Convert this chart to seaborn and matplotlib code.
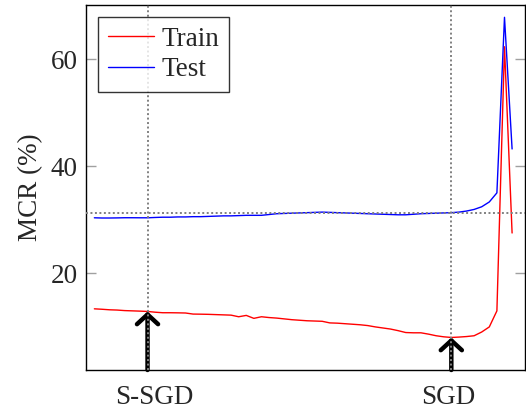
import matplotlib
matplotlib.use('Agg')
import matplotlib.pyplot as plt
import matplotlib.transforms as mtransforms
import numpy as np
import pandas as pd
import seaborn as sns

# MCR (%) per step
train_mcr = [13.33, 13.25, 13.15, 13.1, 13.0, 12.95, 12.9, 12.84, 12.7, 12.6,
             12.6, 12.58, 12.55, 12.35, 12.33, 12.3, 12.25, 12.2, 12.15, 11.85,
             12.1, 11.55, 11.85, 11.7, 11.6, 11.45, 11.3, 11.2, 11.1, 11.05,
             11.0, 10.7, 10.65, 10.55, 10.45, 10.35, 10.2, 9.95, 9.75, 9.55,
             9.25, 8.9, 8.85, 8.85, 8.6, 8.3, 8.1, 7.98, 8.05, 8.15,
             8.3, 9.0, 9.95, 12.95, 62.3, 27.5]
test_mcr = [30.34, 30.3, 30.3, 30.32, 30.35, 30.35, 30.34, 30.34, 30.4, 30.45,
            30.45, 30.5, 30.5, 30.55, 30.55, 30.6, 30.65, 30.7, 30.7, 30.75,
            30.8, 30.8, 30.8, 30.95, 31.1, 31.15, 31.2, 31.25, 31.3, 31.35,
            31.4, 31.35, 31.3, 31.25, 31.2, 31.15, 31.1, 31.05, 31.0, 30.95,
            30.9, 30.9, 31.0, 31.1, 31.15, 31.2, 31.25, 31.3, 31.4, 31.6,
            31.9, 32.4, 33.3, 35.0, 67.8, 43.2]
steps = list(range(len(train_mcr)))

mark_pos = [7, 47]
mark_labels = ['S-SGD', 'SGD']
ref_level = 31.3

df = pd.DataFrame({
    'step': steps * 2,
    'MCR': train_mcr + test_mcr,
    'set': ['Train'] * len(steps) + ['Test'] * len(steps),
})

sns.set_style('ticks')
plt.rcParams['font.family'] = ['Liberation Serif', 'DejaVu Serif']

FS = 19.5
fig = plt.figure(figsize=(5.26, 4.12), dpi=100)
ax = fig.add_axes([86 / 526, 42 / 412, 439 / 526, 365 / 412])

ylo, yhi = 1.9, 70.1
ax.set_xlim(-1.1, 56.7)
ax.set_ylim(ylo, yhi)

sns.lineplot(data=df, x='step', y='MCR', hue='set', palette={'Train': 'red', 'Test': 'blue'},
             linewidth=1.0, ax=ax, zorder=3)

# arrows up to the train curve, dotted guides on top
dots = (0, (1, 1.3))
for p in mark_pos:
    ax.annotate('', xy=(p, train_mcr[p]), xytext=(p, ylo),
                arrowprops=dict(arrowstyle='->, head_length=0.35, head_width=0.38', lw=3.2,
                                color='black', shrinkA=0, shrinkB=0, mutation_scale=20),
                zorder=4)
    ax.axvline(p, color='#808080', ls=dots, lw=1.4, zorder=5)
ax.axhline(ref_level, color='#808080', ls=dots, lw=1.4, zorder=5)

ax.set_xticks(mark_pos)
ax.set_xticklabels(mark_labels)
ax.set_yticks([20, 40, 60])
ax.tick_params(axis='y', direction='in', length=7, width=1, color='#a0a0a0', right=True,
               labelsize=FS, pad=6)
ax.tick_params(axis='x', direction='in', length=0, labelsize=FS, pad=11)
# small horizontal nudges so the labels sit like in the original
for lab, dx in zip(ax.get_xticklabels(), [5, -2]):
    lab.set_transform(lab.get_transform() + mtransforms.ScaledTranslation(dx / 72, 0, fig.dpi_scale_trans))
ax.set_xlabel('')
ax.set_ylabel('MCR (%)', fontsize=FS, labelpad=5)
for s in ax.spines.values():
    s.set_color('black')
    s.set_linewidth(1.0)

leg = ax.legend(loc='upper left', fontsize=FS, frameon=True, fancybox=False, handlelength=1.7,
                borderpad=0.35, labelspacing=0.2, handletextpad=0.3, borderaxespad=0.45)
leg.get_frame().set_edgecolor('black')
leg.get_frame().set_linewidth(1.0)
leg.set_title(None)

fig.savefig('out.png', dpi=100)
